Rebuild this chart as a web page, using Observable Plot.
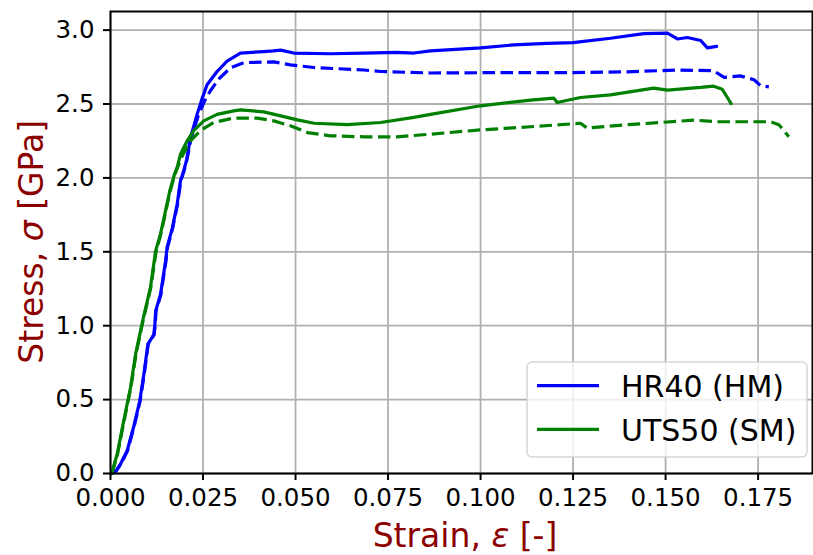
<!DOCTYPE html>
<html>
<head>
<meta charset="utf-8">
<script src="https://cdn.jsdelivr.net/npm/d3@7"></script>
<script src="https://cdn.jsdelivr.net/npm/@observablehq/plot@0.6"></script>
<style>
  html, body { margin: 0; padding: 0; background: white; }
</style>
</head>
<body>
<div id="chart"></div>
<script>
// [strain, stress GPa]
const hr40Solid = [[0.0003,0],[0.0015,0.02],[0.0027,0.064],[0.0045,0.154],[0.0063,0.32],[0.0079,0.49],[0.009,0.67],[0.0101,0.875],[0.0117,0.94],[0.012,1.01],[0.0122,1.10],[0.0135,1.21],[0.0149,1.44],[0.0153,1.53],[0.0167,1.66],[0.018,1.82],[0.0189,1.98],[0.0198,2.05],[0.0205,2.115],[0.0216,2.27],[0.0234,2.43],[0.0248,2.54],[0.0261,2.63],[0.0288,2.72],[0.0315,2.79],[0.0351,2.845],[0.0414,2.855],[0.044,2.86],[0.046,2.865],[0.0495,2.845],[0.0595,2.84],[0.0685,2.845],[0.0775,2.85],[0.082,2.845],[0.0865,2.86],[0.1,2.88],[0.109,2.90],[0.118,2.91],[0.125,2.916],[0.1351,2.945],[0.1441,2.976],[0.1505,2.98],[0.1532,2.94],[0.1559,2.95],[0.1595,2.93],[0.1613,2.88],[0.1638,2.89]];
const hr40Dashed = [[0.0004,0],[0.0016,0.02],[0.0028,0.064],[0.0046,0.154],[0.0064,0.32],[0.008,0.49],[0.0091,0.67],[0.0102,0.875],[0.0118,0.94],[0.0121,1.01],[0.0123,1.10],[0.0136,1.21],[0.015,1.44],[0.0154,1.53],[0.0168,1.66],[0.0181,1.82],[0.019,1.98],[0.0199,2.05],[0.0206,2.115],[0.0218,2.27],[0.0237,2.42],[0.0254,2.52],[0.027,2.59],[0.0293,2.67],[0.0324,2.745],[0.036,2.78],[0.0441,2.785],[0.0486,2.765],[0.055,2.747],[0.0685,2.73],[0.073,2.72],[0.0865,2.71],[0.109,2.713],[0.125,2.713],[0.1396,2.718],[0.1532,2.73],[0.163,2.725],[0.1658,2.68],[0.1703,2.69],[0.1739,2.664],[0.1757,2.623],[0.1779,2.616]];
const uts50Solid = [[0.0003,0],[0.0018,0.13],[0.0036,0.36],[0.0054,0.58],[0.0068,0.81],[0.0079,0.94],[0.0088,1.045],[0.0108,1.26],[0.0122,1.507],[0.0135,1.62],[0.0149,1.78],[0.016,1.91],[0.0173,2.026],[0.018,2.07],[0.0189,2.16],[0.0207,2.25],[0.0225,2.32],[0.0252,2.386],[0.0288,2.43],[0.0333,2.454],[0.0351,2.46],[0.0414,2.447],[0.046,2.42],[0.0505,2.393],[0.055,2.37],[0.064,2.36],[0.073,2.375],[0.082,2.41],[0.0865,2.43],[0.1,2.488],[0.1135,2.526],[0.1198,2.54],[0.1207,2.51],[0.127,2.544],[0.1351,2.562],[0.1468,2.607],[0.1505,2.594],[0.1595,2.612],[0.163,2.621],[0.1653,2.60],[0.1667,2.544],[0.1677,2.503]];
const uts50Dashed = [[0.0004,0],[0.0019,0.13],[0.0037,0.36],[0.0055,0.58],[0.0069,0.81],[0.008,0.94],[0.0089,1.045],[0.0109,1.26],[0.0123,1.5],[0.0136,1.62],[0.015,1.78],[0.0161,1.91],[0.0174,2.026],[0.0192,2.14],[0.0216,2.25],[0.0243,2.32],[0.0279,2.375],[0.0333,2.405],[0.0396,2.405],[0.0441,2.386],[0.0486,2.353],[0.0532,2.307],[0.0595,2.285],[0.0685,2.278],[0.0775,2.278],[0.0865,2.296],[0.1,2.325],[0.1135,2.346],[0.127,2.37],[0.1288,2.337],[0.1396,2.36],[0.1486,2.375],[0.1577,2.391],[0.164,2.38],[0.1784,2.38],[0.1806,2.36],[0.182,2.32],[0.1833,2.278]];

const xTicks = [0, 0.025, 0.05, 0.075, 0.1, 0.125, 0.15, 0.175];
const yTicks = [0, 0.5, 1.0, 1.5, 2.0, 2.5, 3.0];
const seriesNames = ["HR40 (HM)", "UTS50 (SM)"];
const seriesColors = ["#0000ff", "#008000"];
const xLabel = ["Strain, ", "ε", " [-]"];
const yLabel = ["Stress, ", "σ", " [GPa]"];

const lineOpts = (color, dashed) => ({
  x: d => d[0], y: d => d[1], stroke: color, strokeWidth: 3.2,
  strokeDasharray: dashed ? "12.5,5.5" : null, strokeLinejoin: "round", strokeLinecap: dashed ? "butt" : "round"
});

const chart = Plot.plot({
  width: 813, height: 555,
  marginLeft: 110, marginRight: 1, marginTop: 11, marginBottom: 82,
  x: {domain: [0, 0.1897]},
  y: {domain: [0, 3.126]},
  style: {fontFamily: "'DejaVu Sans', sans-serif", background: "white", color: "black"},
  marks: [
    Plot.gridX(xTicks, {stroke: "#b0b0b0", strokeOpacity: 1, strokeWidth: 1.8}),
    Plot.gridY(yTicks, {stroke: "#b0b0b0", strokeOpacity: 1, strokeWidth: 1.8}),
    Plot.line(hr40Solid, lineOpts(seriesColors[0], false)),
    Plot.line(hr40Dashed, lineOpts(seriesColors[0], true)),
    Plot.line(uts50Solid, lineOpts(seriesColors[1], false)),
    Plot.line(uts50Dashed, lineOpts(seriesColors[1], true)),
    Plot.frame({stroke: "black", strokeWidth: 2}),
    Plot.axisX(xTicks, {tickFormat: d3.format(".3f"), tickSize: 7, tickPadding: 8.5, fontSize: 24.5, label: null, strokeWidth: 2}),
    Plot.axisY(yTicks, {tickFormat: d3.format(".1f"), tickSize: 7, tickPadding: 9, fontSize: 24.5, label: null, strokeWidth: 2})
  ]
});

document.getElementById("chart").appendChild(chart);
const svg = d3.select(chart);

function addLabel(parts, attrs) {
  const t = svg.append("text")
    .attr("font-size", 33)
    .attr("fill", "#8b0000")
    .attr("text-anchor", "middle")
    .attr("font-family", "'DejaVu Sans', sans-serif");
  for (const [k, v] of Object.entries(attrs)) t.attr(k, v);
  parts.forEach((p, i) => {
    const s = t.append("tspan").text(p);
    if (i === 1) s.attr("font-style", "italic");
  });
}
addLabel(xLabel, {x: 465, y: 546.5});
addLabel(yLabel, {transform: "translate(43,241.8) rotate(-90)"});

// legend
const lg = svg.append("g");
lg.append("rect").attr("x", 527).attr("y", 362).attr("width", 280).attr("height", 95)
  .attr("rx", 5).attr("fill", "white").attr("fill-opacity", 0.8)
  .attr("stroke", "#cccccc").attr("stroke-opacity", 0.8).attr("stroke-width", 1.5);
seriesNames.forEach((name, i) => {
  const y = 385.7 + i * 43.6;
  lg.append("line").attr("x1", 537).attr("x2", 599).attr("y1", y).attr("y2", y)
    .attr("stroke", seriesColors[i]).attr("stroke-width", 3.2);
  lg.append("text").attr("x", 621).attr("y", y + 11.5).attr("font-size", 30)
    .attr("text-anchor", "start")
    .attr("font-family", "'DejaVu Sans', sans-serif").attr("fill", "black").text(name);
});
</script>
</body>
</html>
